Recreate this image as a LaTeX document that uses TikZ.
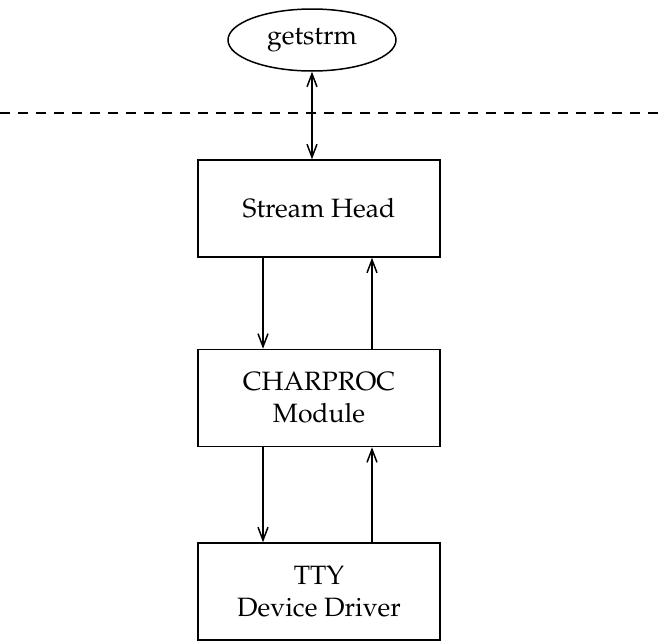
\documentclass[tikz,border=0pt]{standalone}
\usepackage[T1]{fontenc}
\renewcommand{\rmdefault}{ppl}
\usepackage{tikz}
\usetikzlibrary{arrows.meta, shapes.geometric}

\begin{document}
\begin{tikzpicture}[x=1pt, y=-1pt, line width=1.5pt,
    box/.style={draw, rectangle, minimum width=242pt, minimum height=97pt,
        align=center, font=\fontsize{26.5}{32}\selectfont},
    proc/.style={draw, ellipse, minimum width=168pt, minimum height=62pt,
        inner sep=0pt, font=\fontsize{26.5}{30}\selectfont},
    flow/.style={-{Straight Barb[length=13pt, width=10pt, line width=1.5pt]}},
    twoway/.style={{Straight Barb[length=13pt, width=10pt, line width=1.5pt]}-{Straight Barb[length=13pt, width=10pt, line width=1.5pt]}}]
\useasboundingbox (0,0) rectangle (658,640);
\begin{scope}
    \node[proc] (gs) at (312,40) {getstrm};
    \node[box] (sh) at (319,208.5) {Stream Head};
    \node[box] (cp) at (319,398) {CHARPROC\\Module};
    \node[box] (tty) at (319,591.5) {TTY\\Device Driver};

    \coordinate (dl) at (0,113);
    \coordinate (dr) at (658,113);
    \path [draw, dash pattern=on 10pt off 8pt] (dl) edge (dr);

    \path [twoway] (gs.south) edge (sh.north -| gs.south);
    \path [flow] ([xshift=-56pt]sh.south) edge ([xshift=-56pt]cp.north);
    \path [flow] ([xshift=53pt]cp.north) edge ([xshift=53pt]sh.south);
    \path [flow] ([xshift=-56pt]cp.south) edge ([xshift=-56pt]tty.north);
    \path [flow] ([xshift=53pt]tty.north) edge ([xshift=53pt]cp.south);
\end{scope}
\end{tikzpicture}
\end{document}
